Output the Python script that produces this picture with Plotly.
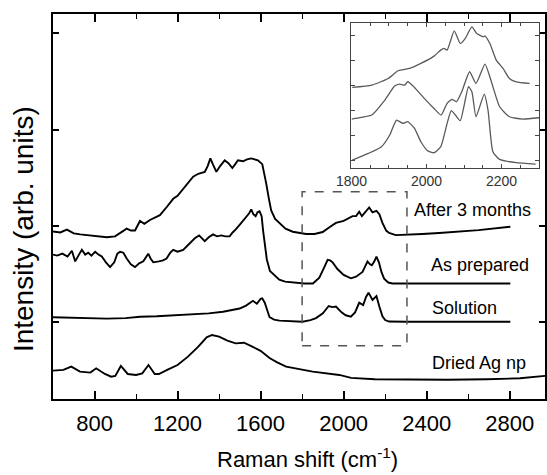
import plotly.graph_objects as go

# ---------------- Data ----------------
# Main panel: Raman shift (cm-1) vs offset intensity (arb. units)
after_x = [600, 635, 667, 700, 731, 780, 820, 859, 899, 930, 955, 975, 995, 1019, 1040, 1067,
           1090, 1115, 1150, 1179, 1200, 1227, 1250, 1275, 1300, 1331, 1345, 1358, 1372, 1387,
           1405, 1427, 1445, 1464, 1478, 1491, 1515, 1535, 1555, 1570, 1587, 1608, 1618, 1627,
           1640, 1651, 1670, 1691, 1720, 1755, 1819, 1860, 1899, 1935, 1963, 2000, 2043, 2060,
           2075, 2088, 2105, 2123, 2139, 2158, 2172, 2187, 2205, 2219, 2251, 2300, 2379, 2460,
           2539, 2650, 2803]
after_y = [0.94, 0.93, 0.96, 0.92, 0.91, 0.90, 0.89, 0.88, 0.89, 0.93, 0.97, 0.95, 0.95, 1.05,
           1.02, 1.06, 1.08, 1.11, 1.20, 1.28, 1.31, 1.38, 1.44, 1.51, 1.54, 1.56, 1.62, 1.70,
           1.63, 1.56, 1.62, 1.68, 1.65, 1.60, 1.64, 1.68, 1.67, 1.69, 1.70, 1.69, 1.68, 1.64,
           1.55, 1.44, 1.28, 1.16, 1.07, 1.025, 0.97, 0.938, 0.914, 0.915, 0.935, 0.99, 1.03,
           1.05, 1.10, 1.10, 1.145, 1.10, 1.14, 1.19, 1.14, 1.155, 1.12, 1.03, 0.95, 0.925,
           0.903, 0.905, 0.915, 0.925, 0.935, 0.955, 0.99]

prep_x = [600, 620, 645, 670, 691, 707, 725, 739, 755, 770, 785, 803, 820, 835, 855, 875, 895,
          910, 923, 939, 955, 975, 995, 1015, 1035, 1059, 1070, 1083, 1110, 1130, 1147, 1165,
          1179, 1200, 1227, 1250, 1270, 1283, 1304, 1320, 1331, 1350, 1371, 1390, 1411, 1430,
          1451, 1465, 1475, 1499, 1515, 1531, 1545, 1555, 1565, 1576, 1585, 1595, 1605, 1612,
          1620, 1630, 1645, 1668, 1690, 1718, 1768, 1810, 1852, 1883, 1907, 1923, 1935, 1947,
          1970, 2000, 2035, 2060, 2091, 2115, 2127, 2136, 2148, 2158, 2170, 2182, 2195, 2215,
          2235, 2300, 2400, 2500, 2600, 2700, 2803]
prep_y = [0.70, 0.69, 0.71, 0.68, 0.74, 0.63, 0.70, 0.75, 0.70, 0.72, 0.69, 0.73, 0.70, 0.68,
          0.62, 0.57, 0.62, 0.71, 0.73, 0.72, 0.66, 0.60, 0.57, 0.61, 0.63, 0.71, 0.66, 0.62,
          0.63, 0.64, 0.66, 0.72, 0.75, 0.73, 0.75, 0.80, 0.85, 0.87, 0.90, 0.86, 0.84, 0.88,
          0.91, 0.89, 0.90, 0.89, 0.89, 0.93, 0.95, 1.01, 1.05, 1.10, 1.13, 1.17, 1.12, 1.10,
          1.14, 1.15, 1.10, 0.95, 0.80, 0.65, 0.53, 0.48, 0.44, 0.42, 0.405, 0.40, 0.40, 0.46,
          0.57, 0.645, 0.64, 0.62, 0.55, 0.49, 0.454, 0.47, 0.52, 0.63, 0.60, 0.59, 0.63, 0.68,
          0.62, 0.52, 0.45, 0.41, 0.40, 0.40, 0.395, 0.40, 0.395, 0.40, 0.40]

sol_x = [600, 700, 800, 859, 950, 1019, 1100, 1180, 1259, 1300, 1350, 1419, 1460, 1499, 1530,
         1547, 1563, 1582, 1600, 1608, 1620, 1643, 1665, 1691, 1750, 1802, 1840, 1867, 1900,
         1928, 1945, 1963, 1990, 2010, 2035, 2055, 2075, 2094, 2108, 2120, 2139, 2158, 2172,
         2187, 2200, 2219, 2300, 2500, 2803]
sol_y = [0.05, 0.045, 0.04, 0.035, 0.04, 0.055, 0.06, 0.07, 0.08, 0.085, 0.09, 0.107, 0.12,
         0.14, 0.17, 0.20, 0.22, 0.19, 0.24, 0.246, 0.20, 0.05, 0.025, 0.014, 0.005, 0.003,
         0.02, 0.04, 0.09, 0.166, 0.155, 0.16, 0.10, 0.07, 0.055, 0.10, 0.20, 0.175, 0.26,
         0.305, 0.23, 0.27, 0.16, 0.06, 0.02, 0.005, 0.003, 0.003, 0.003]

dried_x = [600, 650, 688, 730, 780, 808, 850, 880, 900, 927, 960, 1000, 1030, 1060, 1090, 1110,
           1150, 1200, 1250, 1300, 1340, 1366, 1400, 1440, 1480, 1520, 1560, 1600, 1643, 1680,
           1723, 1780, 1851, 1979, 2036, 2150, 2354, 2500, 2690, 2850, 2970]
dried_y = [-0.505, -0.498, -0.464, -0.516, -0.526, -0.481, -0.540, -0.568, -0.561, -0.457,
           -0.540, -0.550, -0.533, -0.447, -0.540, -0.540, -0.498, -0.447, -0.360, -0.256,
           -0.159, -0.135, -0.152, -0.194, -0.222, -0.215, -0.256, -0.30, -0.374, -0.42,
           -0.464, -0.49, -0.516, -0.55, -0.58, -0.595, -0.602, -0.60, -0.595, -0.585, -0.56]

# Inset (1800-2300 cm-1)
in_after_x = [1802, 1854, 1898, 1924, 1955, 1985, 2020, 2038, 2046, 2055, 2074, 2090, 2103,
              2121, 2134, 2151, 2156, 2169, 2186, 2204, 2221, 2239, 2275]
in_after_y = [2.913, 3.007, 3.273, 3.58, 3.673, 3.873, 4.167, 4.407, 4.473, 4.41, 5.18, 4.673,
              4.87, 5.34, 5.07, 4.94, 4.97, 4.673, 4.007, 3.673, 3.273, 3.14, 3.073]
in_prep_x = [1800, 1810, 1854, 1889, 1915, 1928, 1942, 1950, 1968, 1994, 2020, 2039, 2055,
             2068, 2080, 2094, 2115, 2132, 2156, 2173, 2195, 2221, 2256, 2300]
in_prep_y = [1.647, 1.673, 1.807, 2.407, 2.967, 3.047, 3.007, 3.14, 2.913, 2.473, 2.073, 1.807,
             2.273, 2.433, 2.34, 2.74, 3.54, 3.073, 3.847, 3.14, 2.14, 1.74, 1.647, 1.70]
in_sol_x = [1802, 1845, 1880, 1902, 1920, 1937, 1950, 1968, 1985, 2003, 2020, 2038, 2055, 2066,
            2077, 2090, 2112, 2121, 2132, 2154, 2164, 2177, 2195, 2239, 2291]
in_sol_y = [0.007, 0.273, 0.54, 1.007, 1.607, 1.473, 1.54, 1.273, 0.74, 0.38, 0.3, 0.54, 1.473,
            1.98, 1.807, 1.58, 2.94, 2.74, 1.74, 2.647, 2.007, 0.34, 0.033, -0.1, -0.153]

labels = ["After 3 months", "As prepared", "Solution", "Dried Ag np"]
x_ticks = [800, 1200, 1600, 2000, 2400, 2800]
x_minor = [1000, 1400, 1800, 2200, 2600]
inset_ticks = [1800, 2000, 2200]

# ---------------- Figure ----------------
FONT = "Liberation Sans, Arial, Helvetica, sans-serif"
fig = go.Figure()

main_line = dict(color="black", width=1.9)
for xs, ys in [(after_x, after_y), (prep_x, prep_y), (sol_x, sol_y), (dried_x, dried_y)]:
    fig.add_trace(go.Scatter(x=xs, y=ys, mode="lines", line=main_line,
                             xaxis="x", yaxis="y", showlegend=False))

in_line = dict(color="#5a5a5a", width=1.3, shape="spline", smoothing=0.5)
for xs, ys in [(in_after_x, in_after_y), (in_prep_x, in_prep_y), (in_sol_x, in_sol_y)]:
    fig.add_trace(go.Scatter(x=xs, y=ys, mode="lines", line=in_line,
                             xaxis="x2", yaxis="y2", showlegend=False))

label_pos = [(2327, 1.164), (2409, 0.592), (2414, 0.145), (2418, -0.426)]
annotations = []
for txt, (lx, ly) in zip(labels, label_pos):
    annotations.append(dict(x=lx, y=ly, xref="x", yref="y", text=txt, showarrow=False,
                            xanchor="left", yanchor="middle",
                            font=dict(family=FONT, size=18, color="black")))

annotations.append(dict(x=(309 - 53) / 494, y=(399 - 474) / 385, xref="paper", yref="paper",
                        text="Raman shift (cm<sup>-1</sup>)", showarrow=False,
                        xanchor="center", yanchor="bottom",
                        font=dict(family=FONT, size=22, color="black")))
annotations.append(dict(x=(23 - 53) / 494, y=(399 - 229) / 385, xref="paper", yref="paper",
                        text="Intensity (arb. units)", showarrow=False, textangle=-90,
                        xanchor="center", yanchor="middle",
                        font=dict(family=FONT, size=28, color="black")))

fig.update_layout(
    width=547, height=475,
    margin=dict(l=53, r=0, t=14, b=76),
    paper_bgcolor="white", plot_bgcolor="white",
    font=dict(family=FONT, color="black"),
    showlegend=False,
    xaxis=dict(domain=[0, 1], range=[600, 2970], tickvals=x_ticks,
               ticks="inside", ticklen=8, tickwidth=1.5, tickcolor="black",
               minor=dict(tickvals=x_minor, ticks="inside", ticklen=5, tickwidth=1.2,
                          tickcolor="black"),
               showline=True, linecolor="black", linewidth=1.8, mirror="ticks",
               showgrid=False, zeroline=False, ticklabelstandoff=4,
               tickfont=dict(family=FONT, size=22, color="black")),
    yaxis=dict(domain=[0, 1], range=[-0.8, 3.2], tickvals=[0, 1, 2, 3],
               showticklabels=False, ticks="inside", ticklen=6, tickwidth=1.5,
               tickcolor="black",
               showline=True, linecolor="black", linewidth=1.8, mirror="ticks",
               showgrid=False, zeroline=False),
    xaxis2=dict(domain=[(352.7 - 53) / 494, (541 - 53) / 494], anchor="y2",
                range=[1800, 2300], tickvals=inset_ticks,
                ticks="inside", ticklen=4, tickwidth=1, tickcolor="#444",
                minor=dict(dtick=50, ticks="inside", ticklen=3, tickwidth=1, tickcolor="#444"),
                showline=True, linecolor="#444", linewidth=1, mirror="ticks",
                showgrid=False, zeroline=False,
                tickfont=dict(family=FONT, size=14, color="#333")),
    yaxis2=dict(domain=[(399 - 167.7) / 385, (399 - 23.3) / 385], anchor="x2",
                range=[-0.3, 5.48], tickvals=[0, 1, 2, 3, 4, 5], showticklabels=False,
                ticks="inside", ticklen=4, tickwidth=1, tickcolor="#444",
                showline=True, linecolor="#444", linewidth=1, mirror="ticks",
                showgrid=False, zeroline=False),
    shapes=[dict(type="rect", xref="x", yref="y", x0=1800, x1=2305, y0=-0.246, y1=1.353,
                 line=dict(color="#555555", width=1.5, dash="dash"))],
    annotations=annotations,
)

fig.write_html("out.html")
